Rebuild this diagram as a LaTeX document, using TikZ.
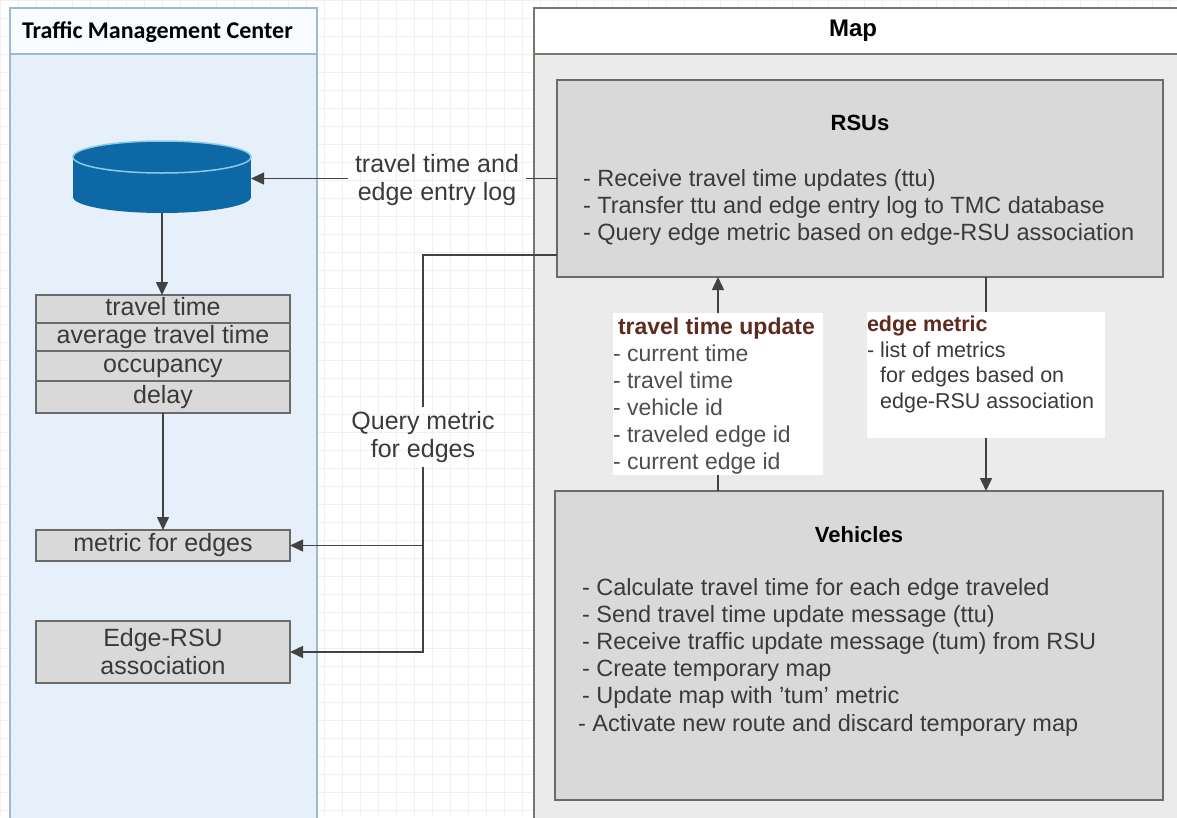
\documentclass[tikz,border=0pt]{standalone}
\usepackage{fontspec}
\setmainfont{Liberation Sans}
\newfontfamily\calibri{Carlito}
\usetikzlibrary{arrows.meta,calc}

\definecolor{tmcfill}{HTML}{E6F0FA}
\definecolor{tmchead}{HTML}{F8FBFF}
\definecolor{tmcline}{HTML}{9DB9D3}
\definecolor{mapfill}{HTML}{EBEBEB}
\definecolor{mapline}{HTML}{737B6C}
\definecolor{boxfill}{HTML}{D9D9D9}
\definecolor{boxline}{HTML}{6A6A6A}
\definecolor{wirec}{HTML}{424242}
\definecolor{dbblue}{HTML}{0F68A6}
\definecolor{dbrim}{HTML}{8ACBEA}
\definecolor{msgred}{HTML}{5E2B1E}
\definecolor{txt}{HTML}{3A3A3A}
\definecolor{gridc}{HTML}{F0F0F0}

\begin{document}
\begin{tikzpicture}[x=1pt,y=-1pt,
  every node/.style={inner sep=0pt, outer sep=0pt},
  lanetmc/.style={draw=tmcline, line width=2pt, fill=tmcfill},
  lanemap/.style={draw=mapline, line width=2pt, fill=mapfill},
  cell/.style={draw=boxline, line width=1.6pt, fill=boxfill, minimum width=254pt,
    text=txt, font=\fontsize{25}{28}\selectfont, text height=17.5pt, text depth=5pt, anchor=north west},
  panel/.style={draw=boxline, line width=2pt, fill=boxfill, anchor=north west},
  msgbox/.style={fill=white, anchor=north west},
  wire/.style={draw=wirec, line width=1.5pt},
  arr/.style={wire, -{Triangle[length=13pt,width=12pt]}},
  lbl/.style={text=txt, align=center, font=\fontsize{25}{28}\selectfont},
  body/.style={text=txt, align=left, anchor=north west, font=\fontsize{23.5}{27.2}\selectfont},
  head/.style={font=\bfseries\fontsize{22}{26}\selectfont, text=black}
]
\useasboundingbox (0,0) rectangle (1177,817);
\clip (0,0) rectangle (1177,817);

% background sheet with a light grid
\fill[white] (0,0) rectangle (1177,817);
\foreach \g in {0,18,...,1177} \draw[gridc, line width=0.6pt] (\g,0) -- (\g,817);
\foreach \g in {0,18,...,817} \draw[gridc, line width=0.6pt] (0,\g) -- (1177,\g);

% swimlanes
\draw[lanetmc] (10,8) rectangle (317,840);
\draw[lanetmc, fill=tmchead] (10,8) rectangle (317,54);
\node[anchor=west, font=\calibri\bfseries\fontsize{24}{28}\selectfont] (tmctitle) at (22,32) {Traffic Management Center};

\draw[lanemap] (534,8) rectangle (1200,840);
\draw[lanemap, fill=white] (534,8) rectangle (1200,54);
\node[font=\bfseries\fontsize{24}{28}\selectfont] (maptitle) at (853,31) {Map};

% database
\node[minimum width=178pt, minimum height=73pt] (db) at (162,176.5) {};
\fill[dbblue] (162,197) ellipse (89 and 16);
\fill[dbblue] (73,157) rectangle (251,197);
\draw[dbrim, line width=1.5pt, fill=dbblue] (162,157) ellipse (89 and 16);

% metric table
\node[cell, minimum height=28pt] (r1) at (36,295) {travel time};
\node[cell, minimum height=28pt] (r2) at (r1.south west) {average travel time};
\node[cell, minimum height=30pt] (r3) at (r2.south west) {occupancy};
\node[cell, minimum height=32pt] (r4) at (r3.south west) {delay};

\node[cell, minimum height=31pt] (metric) at (36,530) {metric for edges};
\node[cell, minimum height=62pt, align=center, text height=, text depth=] (assoc) at (36,621) {Edge-RSU\\association};

% RSUs
\node[panel, minimum width=606pt, minimum height=197pt] (rsu) at (557,80) {};
\node[head] (rsutitle) at (860,123) {RSUs};
\node[body] (rsutext) at (583,169) {- Receive travel time updates (ttu)\\
- Transfer ttu and edge entry log to TMC database\\
- Query edge metric based on edge-RSU association};

% Vehicles
\node[panel, minimum width=608pt, minimum height=309pt] (veh) at (555,491) {};
\node[head] (vehtitle) at (859,535) {Vehicles};
\node[body] (vehtext) at (582,578) {- Calculate travel time for each edge traveled\\
- Send travel time update message (ttu)\\
- Receive traffic update message (tum) from RSU\\
- Create temporary map\\
- Update map with 'tum' metric\\
\hspace*{-4pt}- Activate new route and discard temporary map};

% message labels
\node[msgbox, minimum width=210pt, minimum height=162pt] (ttubox) at (613,313) {};
\node[body, font=\fontsize{23}{27}\selectfont, text=txt!90] (ttutext) at (613,318) {\hspace*{5pt}{\bfseries\color{msgred}travel time update}\\
- current time\\
- travel time\\
- vehicle id\\
- traveled edge id\\
- current edge id};

\node[msgbox, minimum width=238pt, minimum height=126pt] (embox) at (867,312) {};
\node[body, font=\fontsize{21.5}{25.5}\selectfont] (emtext) at (867,316) {{\bfseries\color{msgred}edge metric}\\
- list of metrics\\
\hphantom{- }for edges based on\\
\hphantom{- }edge-RSU association};

% connector labels
\node[lbl, inner xsep=7pt] (tlog) at (437,180) {travel time and\\edge entry log};
\node[lbl, inner ysep=4pt] (qlbl) at (423,437) {Query metric\\for edges};
\coordinate (qtop) at (423,255);

% connectors
\draw[arr] (r4.south) -- (metric.north);
\draw[arr] (db.south) -- (r1.north -| db.south);
\draw[wire] (rsu.west) -- (rsu.west -| tlog.east);
\draw[arr] (tlog.west |- rsu.west) -- (rsu.west -| db.east);
\draw[wire] (qtop -| rsu.west) -- (qtop) -- (qlbl.north);
\draw[arr] (qlbl.south) |- (metric.east);
\draw[arr] (qlbl.south) |- (assoc.east);

\draw[arr] (ttubox.north) -- (ttubox.north |- rsu.south);
\draw[wire] (ttubox.south |- veh.north) -- (ttubox.south);
\draw[wire] (embox.north |- rsu.south) -- (embox.north);
\draw[arr] (embox.south) -- (embox.south |- veh.north);
\end{tikzpicture}
\end{document}
